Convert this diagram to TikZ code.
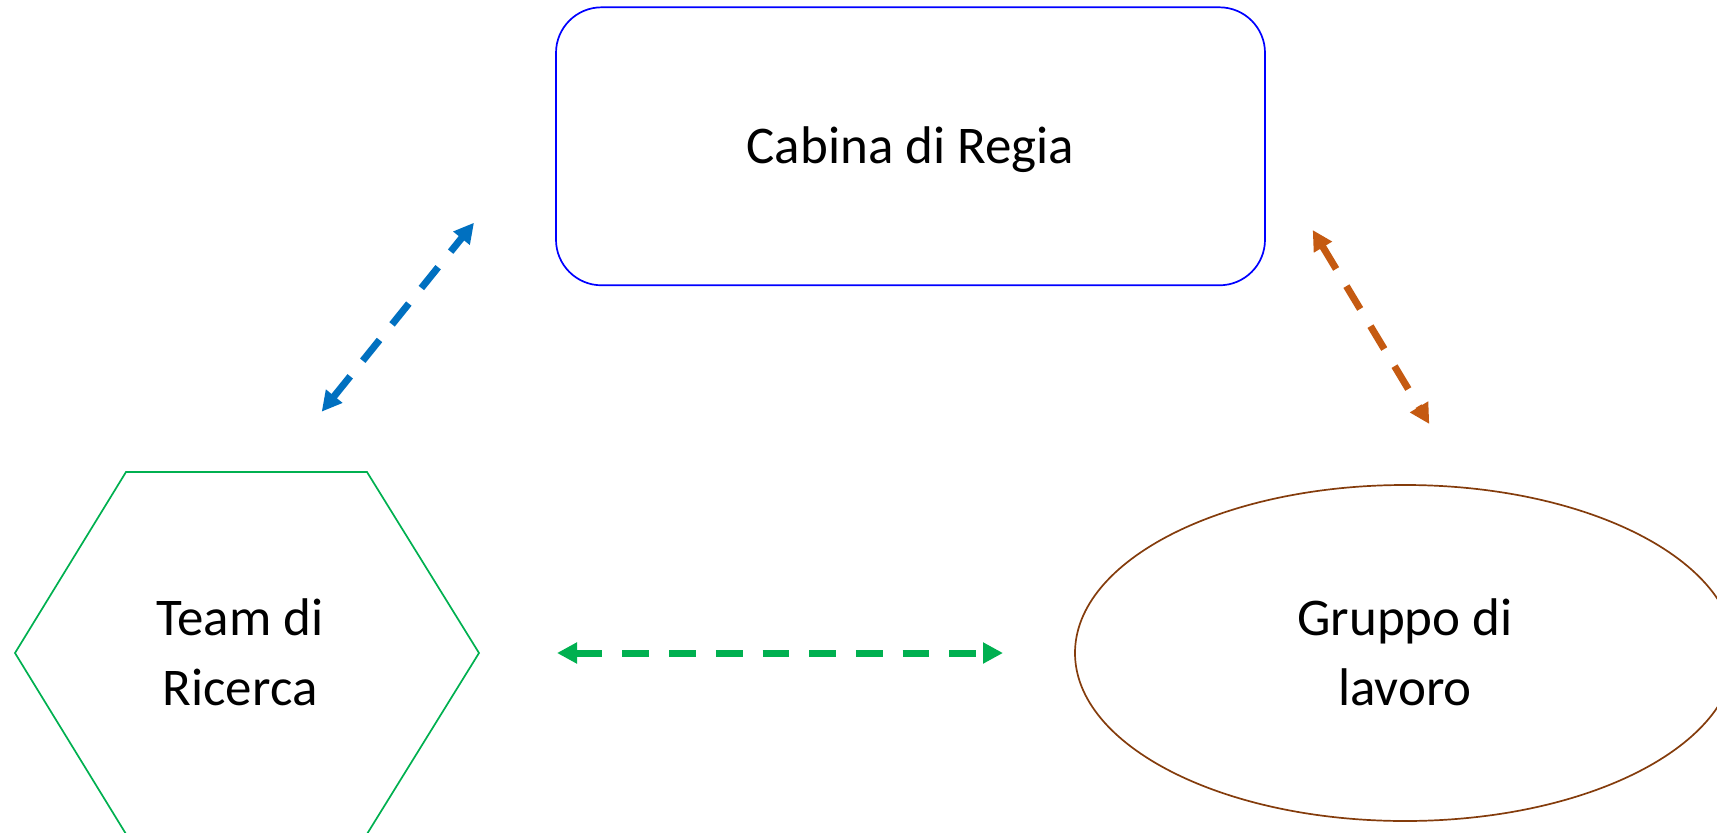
\documentclass[tikz,border=0pt]{standalone}
\usepackage{fontspec}
\setmainfont{Carlito}
\usetikzlibrary{arrows.meta}
\definecolor{rectblue}{HTML}{0000FF}
\definecolor{hexgreen}{HTML}{00B050}
\definecolor{ellbrown}{HTML}{843C0C}
\definecolor{arrblue}{HTML}{0070C0}
\definecolor{arrorange}{HTML}{C55A11}
\definecolor{arrgreen}{HTML}{00B050}
\tikzset{
  lbl/.style={font=\fontsize{53}{70}\selectfont, align=center, anchor=base, inner sep=0pt},
  link/.style={line width=7pt, dash pattern=on 26.7pt off 20pt,
    {Triangle[length=20pt,width=20pt]}-{Triangle[length=20pt,width=20pt]}},
  outline/.style={line width=1.7pt}
}
\begin{document}
\begin{tikzpicture}[x=1pt,y=-1pt]
\useasboundingbox (0,0) rectangle (1717,833);
\begin{scope}
\clip (0,0) rectangle (1717,833);
% Cabina di Regia
\draw[outline, rectblue, rounded corners=45.6pt] (556,7.3) rectangle (1265,285.3);
\node[lbl] (cabina) at (910.5,163) {Cabina di Regia};
% Team di Ricerca hexagon
\draw[outline, hexgreen] (126,472) -- (367,472) -- (479,653) -- (367,834) -- (126,834) -- (15,653) -- cycle;
\node[lbl] (team) at (240,705) {Team di\\Ricerca};
% Gruppo di lavoro ellipse
\draw[outline, ellbrown] (1405,653) ellipse [x radius=330, y radius=168];
\node[lbl] (gruppo) at (1405,705) {Gruppo di\\lavoro};
\end{scope}
% arrow end points
\coordinate (b1) at (321.7,411.7);
\coordinate (b2) at (474,222.7);
\coordinate (o1) at (1312.7,230);
\coordinate (o2) at (1429.3,424);
\coordinate (g1) at (557,653);
\coordinate (g2) at (1003,653);
\draw[link, arrblue] (b1) -- (b2);
\draw[link, arrorange] (o1) -- (o2);
\draw[link, arrgreen] (g1) -- (g2);
\end{tikzpicture}
\end{document}
